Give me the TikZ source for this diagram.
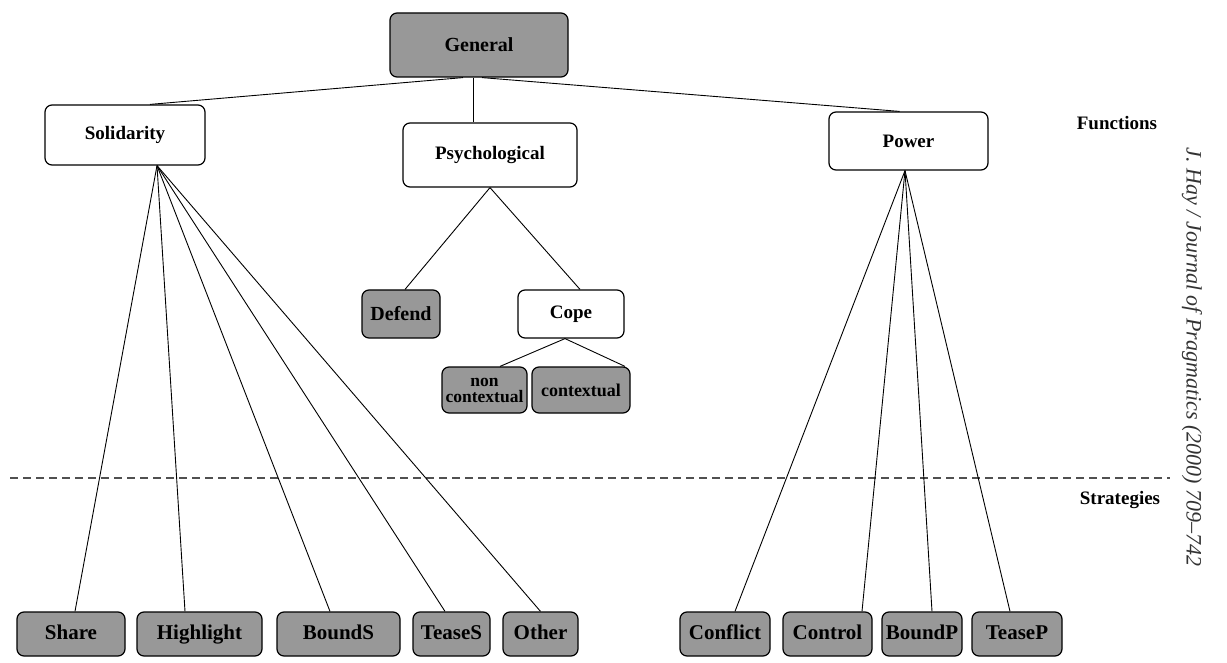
\documentclass[tikz,border=0pt]{standalone}
\usepackage{fontspec}
\setmainfont{Liberation Serif}
\definecolor{boxgray}{RGB}{152,152,152}
\definecolor{dashgray}{RGB}{80,80,80}
\begin{document}
\begin{tikzpicture}[x=1pt,y=-1pt,
  lbl/.style={font=\fontsize{19}{21}\selectfont\bfseries},
  wbox/.style={lbl, draw=black, line width=1.2pt, rounded corners=7pt, fill=white, inner sep=0pt, align=center},
  gbox/.style={wbox, fill=boxgray, font=\fontsize{20}{22}\selectfont\bfseries},
  sbox/.style={gbox, minimum height=44pt, text height=14pt, text depth=4pt, font=\fontsize{21}{23}\selectfont\bfseries},
  conn/.style={draw=black, line width=0.9pt}]
\useasboundingbox (0,0) rectangle (1227,663);
% top
\node[gbox, minimum width=178pt, minimum height=64pt] (gen) at (479,45) {General};
% functions
\node[wbox, minimum width=160pt, minimum height=60pt] (sol) at (125,135) {Solidarity};
\node[wbox, minimum width=174pt, minimum height=64pt] (psy) at (490,155) {Psychological};
\node[wbox, minimum width=159pt, minimum height=58pt] (pow) at (908.5,141) {Power};
% psychological branch
\node[gbox, minimum width=78pt, minimum height=48pt] (def) at (401,314) {Defend};
\node[wbox, minimum width=106pt, minimum height=48pt] (cope) at (571,314) {Cope};
\node[gbox, minimum width=85pt, minimum height=46pt, font=\fontsize{17.5}{16}\selectfont\bfseries] (ncon) at (484.5,390) {non\\contextual};
\node[gbox, minimum width=98pt, minimum height=46pt, font=\fontsize{18}{18}\selectfont\bfseries] (con) at (581,390) {contextual};
% solidarity strategies
\node[sbox, minimum width=108pt] (share) at (71,634) {Share};
\node[sbox, minimum width=125pt] (high) at (199.5,634) {Highlight};
\node[sbox, minimum width=123pt] (bounds) at (338.5,634) {BoundS};
\node[sbox, minimum width=77pt] (teases) at (451.5,634) {TeaseS};
\node[sbox, minimum width=75pt] (other) at (540.5,634) {Other};
% power strategies
\node[sbox, minimum width=90pt] (confl) at (725,634) {Conflict};
\node[sbox, minimum width=89pt] (contr) at (827.5,634) {Control};
\node[sbox, minimum width=80pt] (boundp) at (922,634) {BoundP};
\node[sbox, minimum width=90pt] (teasep) at (1017,634) {TeaseP};
% labels
\node[lbl] (func) at (1117,123) {Functions};
\node[lbl] (strat) at (1120,500) {Strategies};
\node[font=\fontsize{22}{24}\selectfont\itshape, text=black!80, rotate=-90] (ref) at (1192,357) {J. Hay / Journal of Pragmatics (2000) 709--742};
% dashed separator
\coordinate (dl) at (10,478);
\coordinate (dr) at (1170,478);
\draw[dashgray, line width=1.4pt, dash pattern=on 8pt off 5pt] (dl) -- (dr);
% connectors
\draw[conn] ([xshift=-16pt]gen.south) -- ([xshift=25pt]sol.north);
\draw[conn] ([xshift=-6pt]gen.south) -- ([xshift=-17pt]psy.north);
\draw[conn] ([xshift=3pt]gen.south) -- ([xshift=-9pt]pow.north);
\draw[conn] ([xshift=32pt]sol.south) -- ([xshift=4pt]share.north);
\draw[conn] ([xshift=32pt]sol.south) -- ([xshift=-14.5pt]high.north);
\draw[conn] ([xshift=32pt]sol.south) -- ([xshift=-8.5pt]bounds.north);
\draw[conn] ([xshift=32pt]sol.south) -- ([xshift=-6.5pt]teases.north);
\draw[conn] ([xshift=32pt]sol.south) -- (other.north);
\draw[conn] (psy.south) -- ([xshift=4pt]def.north);
\draw[conn] (psy.south) -- ([xshift=9pt]cope.north);
\draw[conn] ([xshift=-6pt]cope.south) -- ([xshift=15.5pt]ncon.north);
\draw[conn] ([xshift=-6pt]cope.south) -- ([xshift=44pt]con.north);
\draw[conn] ([xshift=-3.5pt]pow.south) -- ([xshift=10pt]confl.north);
\draw[conn] ([xshift=-3.5pt]pow.south) -- ([xshift=34.5pt]contr.north);
\draw[conn] ([xshift=-3.5pt]pow.south) -- ([xshift=10pt]boundp.north);
\draw[conn] ([xshift=-3.5pt]pow.south) -- ([xshift=-7pt]teasep.north);
\end{tikzpicture}
\end{document}
